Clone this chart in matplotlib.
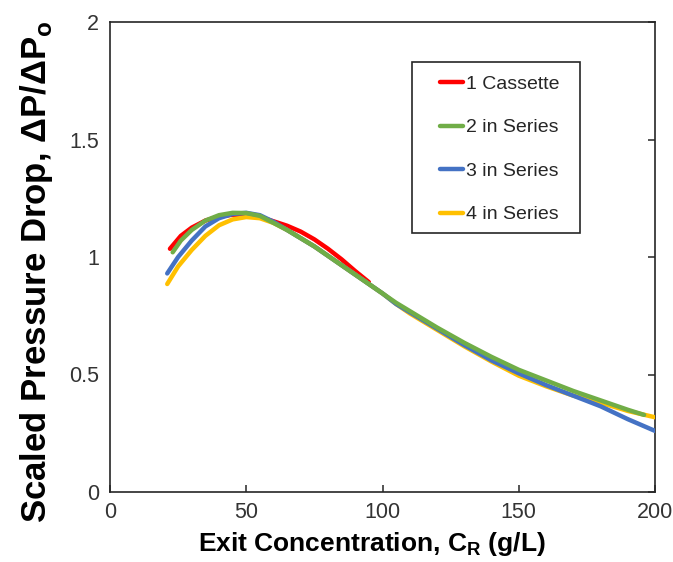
import matplotlib
matplotlib.use("Agg")
import matplotlib.pyplot as plt
from matplotlib.patches import Rectangle

plt.rcParams['font.family'] = ['Liberation Sans', 'DejaVu Sans']
plt.rcParams['mathtext.fontset'] = 'custom'
plt.rcParams['mathtext.rm'] = 'Liberation Sans:bold'
plt.rcParams['mathtext.bf'] = 'Liberation Sans:bold'

# ---- data ----
x_red = [22, 26, 30, 35, 40, 45, 50, 55, 60, 65, 70, 75, 80, 85, 90, 95]
y_red = [1.035, 1.09, 1.125, 1.155, 1.172, 1.18, 1.18, 1.17, 1.152, 1.133, 1.108,
         1.075, 1.035, 0.99, 0.94, 0.893]

x_green = [23, 26, 30, 35, 40, 45, 50, 55, 60, 65, 70, 75, 80, 85, 90, 95, 100,
           105, 110, 120, 130, 140, 150, 160, 170, 180, 190, 196]
y_green = [1.02, 1.07, 1.115, 1.155, 1.178, 1.188, 1.187, 1.175, 1.145, 1.115,
           1.08, 1.045, 1.005, 0.965, 0.925, 0.885, 0.845, 0.805, 0.77, 0.70,
           0.635, 0.575, 0.52, 0.475, 0.43, 0.39, 0.35, 0.328]

x_blue = [21, 25, 30, 35, 40, 45, 50, 55, 60, 65, 70, 75, 80, 85, 90, 95, 100,
          105, 110, 120, 130, 140, 150, 160, 170, 180, 190, 200]
y_blue = [0.93, 1.0, 1.07, 1.13, 1.165, 1.183, 1.188, 1.178, 1.15, 1.115, 1.08,
          1.045, 1.005, 0.965, 0.925, 0.885, 0.845, 0.80, 0.765, 0.695, 0.625,
          0.56, 0.505, 0.455, 0.41, 0.365, 0.31, 0.26]

x_yellow = [21, 25, 30, 35, 40, 45, 50, 55, 60, 65, 70, 75, 80, 85, 90, 95, 100,
            105, 110, 120, 130, 140, 150, 160, 170, 180, 190, 200]
y_yellow = [0.885, 0.96, 1.03, 1.09, 1.135, 1.16, 1.17, 1.165, 1.145, 1.115,
            1.08, 1.045, 1.005, 0.965, 0.925, 0.885, 0.845, 0.80, 0.76, 0.69,
            0.62, 0.555, 0.495, 0.45, 0.41, 0.38, 0.345, 0.318]

labels = ["1 Cassette", "2 in Series", "3 in Series", "4 in Series"]
colors = ["#FF0000", "#70AD47", "#4472C4", "#FFC000"]

x_ticks = [0, 50, 100, 150, 200]
y_ticks = [0, 0.5, 1, 1.5, 2]
y_tick_labels = ["0", "0.5", "1", "1.5", "2"]

# ---- figure ----
fig = plt.figure(figsize=(6.73, 5.62), dpi=100)
ax = fig.add_axes([110/673, 1-492/562, 545/673, 470/562])

series = [(x_red, y_red), (x_green, y_green), (x_blue, y_blue), (x_yellow, y_yellow)]
draw_order = [0, 3, 2, 1]
lines = {}
for z, i in enumerate(draw_order):
    xs, ys = series[i]
    ln, = ax.plot(xs, ys, color=colors[i], lw=3.2, solid_capstyle='round',
                  label=labels[i], zorder=2 + z)
    lines[i] = ln

ax.set_xlim(0, 200)
ax.set_ylim(0, 2)
ax.set_xticks(x_ticks)
ax.set_xticklabels([str(t) for t in x_ticks])
ax.set_yticks(y_ticks)
ax.set_yticklabels(y_tick_labels)

for s in ax.spines.values():
    s.set_color('#262626')
    s.set_linewidth(1.2)

ax.tick_params(axis='x', direction='in', length=5, width=1.1, color='#262626',
               labelsize=15.5, labelcolor='#333333', pad=7)
ax.tick_params(axis='y', direction='in', length=5, width=1.1, color='#262626',
               left=False, right=True, labelleft=True, labelright=False,
               labelsize=15.5, labelcolor='#333333', pad=8)

ax.set_xlabel(r"Exit Concentration, C$_\mathregular{R}$ (g/L)", fontsize=19,
              fontweight='bold')
ax.xaxis.set_label_coords(0.48, -0.081)
ax.set_ylabel(r"Scaled Pressure Drop, $\Delta$P/$\Delta$P$_\mathregular{o}$",
              fontsize=25, fontweight='bold')
ax.yaxis.set_label_coords(-0.101, 0.468)

handles = [lines[i] for i in range(4)]
leg = ax.legend(handles, labels, loc='center', bbox_to_anchor=(0.715, 0.729),
                frameon=False, fontsize=14, handlelength=1.2, handletextpad=0.15,
                labelspacing=1.33, borderpad=0)
for t in leg.get_texts():
    t.set_color('#262626')

ax.add_patch(Rectangle((0.554, 0.551), 0.862 - 0.554, 0.915 - 0.551,
                       transform=ax.transAxes, fill=False, edgecolor='#262626',
                       linewidth=1.2, zorder=5))

fig.savefig("out.png", dpi=100)
